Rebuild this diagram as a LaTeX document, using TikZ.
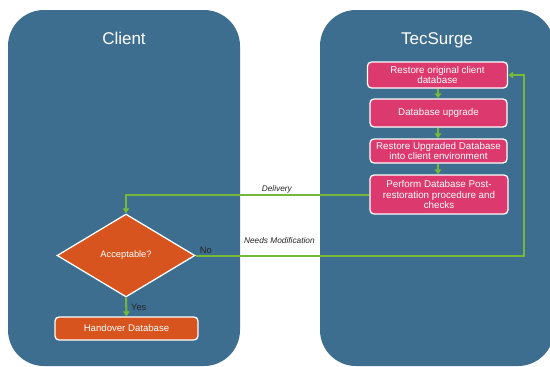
\documentclass[tikz,border=0pt]{standalone}
\usepackage{fontspec}
\setmainfont{Liberation Sans}
\usetikzlibrary{shapes.geometric,arrows.meta}
\definecolor{panelblue}{RGB}{61,110,143}
\definecolor{stepred}{RGB}{220,57,110}
\definecolor{steporange}{RGB}{216,84,30}
\definecolor{flowgreen}{RGB}{118,185,58}
\begin{document}
\begin{tikzpicture}[x=1pt,y=-1pt,
  panel/.style={fill=panelblue, draw=none, rounded corners=36pt, inner sep=0pt},
  paneltitle/.style={text=white, font=\fontsize{17}{20}\selectfont},
  pinkbox/.style={fill=stepred, draw=white, line width=1.3pt, rounded corners=4pt, text=white,
     font=\fontsize{9.8}{10.8}\selectfont, align=center, inner sep=1pt},
  orangebox/.style={fill=steporange, draw=white, line width=1.3pt, rounded corners=4pt, text=white,
     font=\fontsize{9.6}{10.8}\selectfont, align=center, inner sep=1pt},
  decision/.style={diamond, fill=steporange, draw=white, line width=1.3pt, text=white,
     font=\fontsize{9.3}{10.5}\selectfont, inner sep=0pt, aspect=1.66,
     minimum width=138pt, minimum height=83pt},
  flow/.style={draw=flowgreen, line width=2pt, -{Triangle[width=6.5pt,length=5pt]}},
  lbl/.style={font=\fontsize{8.3}{9.5}\selectfont\itshape, text=black!85},
  yn/.style={font=\fontsize{9.3}{10}\selectfont, text=black!85, inner sep=0pt}
]
\useasboundingbox (0,0) rectangle (550,367);
\clip (0,0) rectangle (550,367);
\fill[white] (0,0) rectangle (550,367);

% panels
\node[panel, minimum width=232pt, minimum height=356pt] (client) at (124,188) {};
\node[panel, minimum width=234pt, minimum height=356pt] (tec) at (437,188) {};
\node[paneltitle] (clienttitle) at (124,38) {Client};
\node[paneltitle] (tectitle) at (437,40) {TecSurge};

% TecSurge steps
\node[pinkbox, minimum width=140pt, minimum height=26pt] (b1) at (437.5,75) {Restore original client\\database};
\node[pinkbox, minimum width=137pt, minimum height=28pt] (b2) at (438.5,113) {Database upgrade};
\node[pinkbox, minimum width=137pt, minimum height=24pt] (b3) at (438.5,151) {Restore Upgraded Database\\into client environment};
\node[pinkbox, minimum width=138pt, minimum height=39pt] (b4) at (439,194.5) {Perform Database Post-\\restoration procedure and\\checks};

% Client
\node[decision] (dia) at (126,255.5) {Acceptable?};
\node[orangebox, minimum width=143pt, minimum height=23pt] (hand) at (126.5,328.5) {Handover Database};

\coordinate (ret) at (524,0);

% connectors
\draw[flow] (b1.south -| 438,0) -- (b2.north -| 438,0);
\draw[flow] (b2.south -| 438,0) -- (b3.north -| 438,0);
\draw[flow] (b3.south -| 438,0) -- (b4.north -| 438,0);
\draw[flow] (b4.west) -- node[lbl, pos=0.38, yshift=5pt] (deliv) {Delivery} (b4.west -| dia.north) -- (dia.north);
\draw[flow] (dia.east) -- node[lbl, pos=0.255, yshift=14.5pt] (needs) {Needs Modification} (dia.east -| ret) |- (b1.east);
\draw[flow] (dia.south) -- (hand.north);
\node[yn, anchor=south west] (no) at ([xshift=4pt,yshift=2pt]dia.east) {No};
\node[yn, anchor=west] (yes) at (131,307) {Yes};
\end{tikzpicture}
\end{document}
